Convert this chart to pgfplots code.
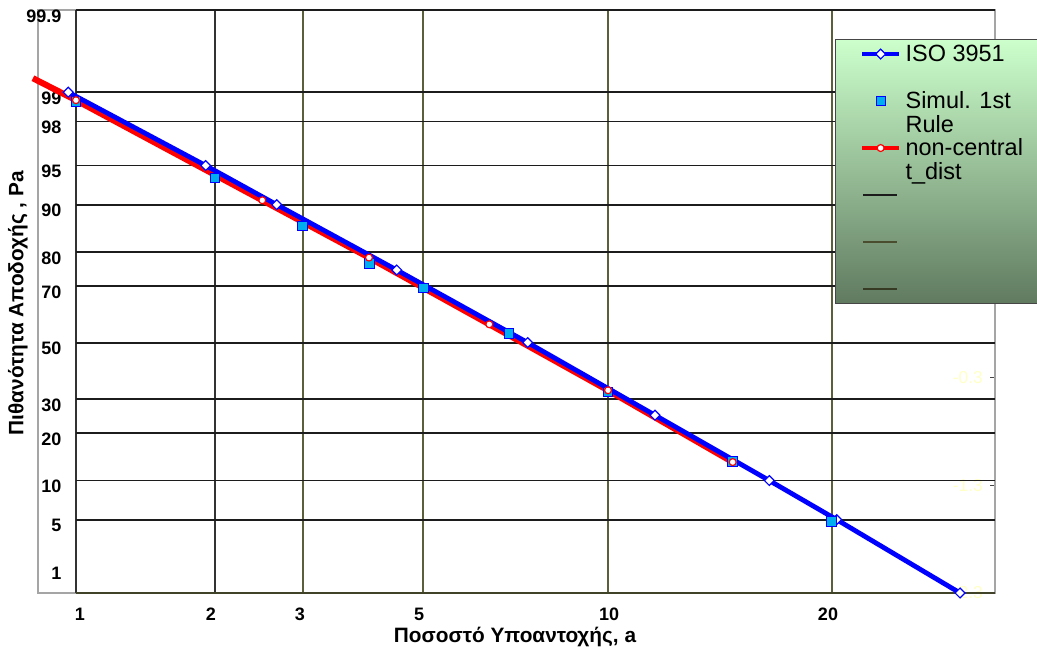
\documentclass[border=0pt]{standalone}
\usepackage{fontspec}
\setmainfont{Liberation Sans}
\usepackage{pgfplots}
\usepackage{pgfplotstable}
\pgfplotsset{compat=1.18}

\definecolor{gridblack}{RGB}{28,28,28}
\definecolor{griddark}{RGB}{50,50,50}
\definecolor{gridolive}{RGB}{92,96,58}
\definecolor{axisgrey}{RGB}{165,165,165}
\definecolor{axisdark}{RGB}{70,70,70}
\definecolor{faint}{RGB}{255,255,200}
\definecolor{legtop}{RGB}{204,255,204}
\definecolor{legbot}{RGB}{96,122,96}
\definecolor{legborder}{RGB}{70,70,70}

\pgfplotsset{
  legline/.style={legend image code/.code={\path (0pt,0pt) (27.8pt,0pt);
    \draw[mark repeat=2,mark phase=2,##1] plot coordinates {(0pt,0pt) (13.9pt,0pt) (27.8pt,0pt)};}},
  legshort/.style={legend image code/.code={\path (0pt,0pt) (27.8pt,0pt);
    \draw[##1] (1pt,0pt) -- (26.5pt,0pt);}},
}

% Both axes are in probit units: x = Phi^{-1}(a), y = Phi^{-1}(Pa)
\pgfplotstableread{
x y
-2.3420  2.3263
-2.0720  1.6449
-1.9325  1.2816
-1.6967  0.6745
-1.4394  0.0000
-1.1893 -0.6745
-0.9647 -1.2816
-0.8323 -1.6449
-0.5900 -2.3263
}\isodata

\pgfplotstableread{
x y
-2.3268  2.2426
-2.0537  1.5300
-1.8820  1.0836
-1.7506  0.7340
-1.6444  0.5074
-1.4761  0.0836
-1.2816 -0.4600
-1.0366 -1.1030
-0.8421 -1.6610
}\simdata

\pgfplotstableread{
x y
-2.4113  2.4560
-2.3268  2.2520
-1.9608  1.3225
-1.7512  0.7900
-1.5148  0.1700
-1.2816 -0.4430
-1.0366 -1.1100
}\nctdata

\newcommand\legtext[1]{\raisebox{0pt}[\height][0pt]{\parbox[t]{110pt}{\strut #1}}}

\begin{document}
\begin{tikzpicture}
% secondary (right) axis
\begin{axis}[
  at={(28.5pt,41.25pt)}, anchor=south west, scale only axis,
  width=717.75pt, height=437.25pt,
  xmin=0, xmax=1, ymin=-2.3, ymax=3.1165,
  axis x line=none, axis y line*=right,
  y axis line style={draw=axisdark, line width=1.1pt, -},
  ytick={-2.3,-1.3,-0.3},
  yticklabels={-2.3,-1.3,-0.3},
  tick align=inside, major tick length=3.75pt,
  tick style={draw=axisdark, line width=0.8pt},
  yticklabel style={anchor=east, xshift=-9pt, text=faint,
    font=\fontsize{13}{15}\selectfont, inner sep=0pt},
]
\addplot[draw=none] coordinates {(0.5,0)};
\end{axis}

% main axis
\begin{axis}[
  at={(28.5pt,41.25pt)}, anchor=south west, scale only axis,
  width=717.75pt, height=437.25pt,
  xmin=-2.4014, xmax=-0.5213, ymin=-2.3263, ymax=3.0902,
  clip=false,
  axis line style={draw=axisgrey, line width=1.1pt},
  major tick length=0pt,
  /pgf/number format/assume math mode=true,
  xtick={-2.3189,-2.0616,-1.8867,-1.6529,-1.2796,-0.8494},
  xticklabels={1,2,3,5,10,20},
  ytick={-2.140,-1.701,-1.337,-0.897,-0.580,-0.056,0.469,0.786,1.226,1.589,1.998,2.270,3.032},
  yticklabels={1,5,10,20,30,50,70,80,90,95,98,99,99.9},
  ticklabel style={font=\bfseries\fontsize{13.5}{15}\selectfont, inner sep=0pt},
  xticklabel style={anchor=north, yshift=-11.25pt},
  yticklabel style={anchor=east, xshift=17.8pt},
  xlabel={Ποσοστό Υποαντοχής, a},
  ylabel={Πιθανότητα Αποδοχής , Pa},
  label style={font=\bfseries\fontsize{15.6}{18}\selectfont},
  xlabel style={at={(axis description cs:0.4984,-0.0755)}, anchor=center},
  ylabel style={at={(axis description cs:-0.0209,0.497)}, anchor=center},
  legend cell align=left,
  legend style={
    at={(0.8328,0.9503)}, anchor=north west,
    draw=legborder, line width=1.1pt,
    top color=legtop, bottom color=legbot,
    inner xsep=18pt, inner ysep=1pt,
    row sep=15.75pt, column sep=3pt,
    font=\fontsize{17.6}{18.3}\selectfont,
    nodes={inner sep=0pt, minimum height=19.5pt},
  },
]
% legend entries
\addlegendimage{legline, blue, line width=3.6pt, mark=square*, mark size=2.6pt,
  mark options={rotate=45, fill=white, draw=blue, line width=0.9pt}}
\addlegendentry{\legtext{ISO 3951}}
\addlegendimage{legline, only marks, mark=square*, mark size=3.4pt,
  mark options={fill=cyan, draw=blue, line width=0.7pt}}
\addlegendentry{\legtext{Simul. 1st\\Rule}}
\addlegendimage{legline, red, line width=3.6pt, mark=*, mark size=2.6pt,
  mark options={fill=white, draw=red, line width=0.9pt}}
\addlegendentry{\legtext{non-central\\t\_dist}}
\addlegendimage{legshort, gridblack, line width=0.9pt}
\addlegendentry{}
\addlegendimage{legshort, gridolive!80!black, line width=0.9pt}
\addlegendentry{}
\addlegendimage{legshort, gridolive!60!black, line width=0.9pt}
\addlegendentry{}

% vertical grid lines at a = 1, 2, 3, 5, 10, 20 %
\addplot[griddark, line width=1.4pt, forget plot] coordinates {(-2.3263,-2.3263) (-2.3263,3.0902)};
\addplot[griddark, line width=1.4pt, forget plot] coordinates {(-2.0537,-2.3263) (-2.0537,3.0902)};
\addplot[gridolive, line width=1.4pt, forget plot] coordinates {(-1.8808,-2.3263) (-1.8808,3.0902)};
\addplot[gridolive, line width=1.4pt, forget plot] coordinates {(-1.6449,-2.3263) (-1.6449,3.0902)};
\addplot[gridolive, line width=1.4pt, forget plot] coordinates {(-1.2816,-2.3263) (-1.2816,3.0902)};
\addplot[gridolive, line width=1.4pt, forget plot] coordinates {(-0.8416,-2.3263) (-0.8416,3.0902)};
% horizontal grid lines at Pa = 99.9 ... 1 %
\addplot[gridblack, line width=1.4pt, forget plot] coordinates {(-2.3263,3.0902) (-0.5213,3.0902)};
\addplot[gridblack, line width=1.4pt, forget plot] coordinates {(-2.3263,2.3263) (-0.5213,2.3263)};
\addplot[gridblack, line width=1.4pt, forget plot] coordinates {(-2.3263,2.0537) (-0.5213,2.0537)};
\addplot[gridblack, line width=1.4pt, forget plot] coordinates {(-2.3263,1.6449) (-0.5213,1.6449)};
\addplot[gridblack, line width=1.4pt, forget plot] coordinates {(-2.3263,1.2816) (-0.5213,1.2816)};
\addplot[gridblack, line width=1.4pt, forget plot] coordinates {(-2.3263,0.8416) (-0.5213,0.8416)};
\addplot[gridblack, line width=1.4pt, forget plot] coordinates {(-2.3263,0.5244) (-0.5213,0.5244)};
\addplot[gridblack, line width=1.4pt, forget plot] coordinates {(-2.3263,0.0000) (-0.5213,0.0000)};
\addplot[gridblack, line width=1.4pt, forget plot] coordinates {(-2.3263,-0.5244) (-0.5213,-0.5244)};
\addplot[gridblack, line width=1.4pt, forget plot] coordinates {(-2.3263,-0.8416) (-0.5213,-0.8416)};
\addplot[gridblack, line width=1.4pt, forget plot] coordinates {(-2.3263,-1.2816) (-0.5213,-1.2816)};
\addplot[gridblack, line width=1.4pt, forget plot] coordinates {(-2.3263,-1.6449) (-0.5213,-1.6449)};
\addplot[gridolive!70!black, line width=1.4pt, forget plot] coordinates {(-2.3263,-2.3263) (-0.5213,-2.3263)};

% curves
\addplot[red, line width=4.6pt, line join=round, forget plot] table {\nctdata};
\addplot[blue, line width=3.6pt, line join=round, forget plot] table {\isodata};
\addplot[only marks, mark=square*, mark size=2.6pt,
  mark options={rotate=45, fill=white, draw=blue, line width=0.9pt}, forget plot] table {\isodata};
\addplot[only marks, mark=square*, mark size=3.6pt,
  mark options={fill=cyan, draw=blue, line width=0.7pt}, forget plot] table {\simdata};
\addplot[only marks, mark=*, mark size=2.6pt, skip coords between index={0}{1},
  mark options={fill=white, draw=red, line width=0.9pt}, forget plot] table {\nctdata};
\end{axis}
\pgfresetboundingbox
\useasboundingbox (0pt,0pt) rectangle (777.75pt,486pt);
\end{tikzpicture}
\end{document}
